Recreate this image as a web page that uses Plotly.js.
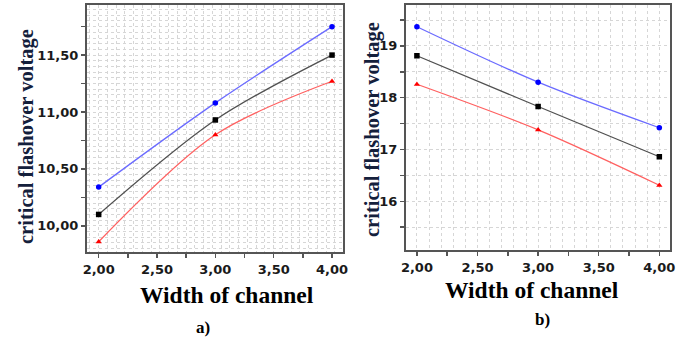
<!DOCTYPE html>
<html><head><meta charset="utf-8">
<script src="https://cdn.plot.ly/plotly-3.0.1.min.js"></script>
<style>html,body{margin:0;padding:0;background:#fff}#c{width:691px;height:340px}</style>
</head><body><div id="c"></div>
<script>
// Data
const widths = [2, 3, 4];
const aBlue  = [10.34, 11.08, 11.75];
const aBlack = [10.10, 10.93, 11.50];
const aRed   = [9.86, 10.80, 11.27];
const bBlue  = [19.37, 18.30, 17.42];
const bBlack = [18.81, 17.83, 16.86];
const bRed   = [18.26, 17.38, 16.31];
const xTickVals = [2, 2.25, 2.5, 2.75, 3, 3.25, 3.5, 3.75, 4];
const xTickText = ['2,00', '', '2,50', '', '3,00', '', '3,50', '', '4,00'];
const aYTickVals = [9.75, 10, 10.25, 10.5, 10.75, 11, 11.25, 11.5, 11.75];
const aYTickText = ['', '10,00', '', '10,50', '', '11,00', '', '11,50', ''];
const bYTickVals = [15.5, 16, 16.5, 17, 17.5, 18, 18.5, 19, 19.5];
const bYTickText = ['', '16', '', '17', '', '18', '', '19', ''];
const yTitle = 'critical flashover voltage';
const xTitle = 'Width of channel';

const tickFont = {family: 'DejaVu Sans', size: 13, color: '#1a1a1a', weight: 'bold'};
function mk(x, y, col, lineCol, sym, xa, ya) {
  return {x: x, y: y, xaxis: xa, yaxis: ya, type: 'scatter', mode: 'lines+markers',
    line: {color: lineCol, width: 1.3, shape: 'spline', smoothing: 0.9},
    marker: {color: col, symbol: sym, size: 5.5}, showlegend: false, hoverinfo: 'skip'};
}
const traces = [
  mk(widths, aBlue, '#0000ff', '#6b6bff', 'circle', 'x', 'y'),
  mk(widths, aBlack, '#000000', '#505050', 'square', 'x', 'y'),
  mk(widths, aRed, '#ff0000', '#ff6060', 'triangle-up', 'x', 'y'),
  mk(widths, bBlue, '#0000ff', '#6b6bff', 'circle', 'x2', 'y2'),
  mk(widths, bBlack, '#000000', '#505050', 'square', 'x2', 'y2'),
  mk(widths, bRed, '#ff0000', '#ff6060', 'triangle-up', 'x2', 'y2'),
];
function ax(extra) {
  return Object.assign({
    showline: true, linecolor: '#555', linewidth: 2, mirror: true,
    ticks: 'outside', ticklen: 4, tickcolor: '#555', tickwidth: 1.5,
    tickmode: 'array', showgrid: false, zeroline: false,
    tickfont: tickFont, fixedrange: true
  }, extra);
}
const gridStyle = {showgrid: true, gridcolor: '#d6d6d6', griddash: 'dot', gridwidth: 1, ticks: ''};
function ann(text, x, y, size, color, angle) {
  return {text: text, xref: 'paper', yref: 'paper', x: x / 691, y: 1 - y / 340,
    xanchor: 'center', yanchor: 'middle', textangle: angle || 0, showarrow: false,
    font: {family: 'Liberation Serif', size: size, color: color, weight: 'bold'}};
}
const layout = {
  width: 691, height: 340,
  margin: {l: 0, r: 0, t: 0, b: 0},
  paper_bgcolor: '#fff', plot_bgcolor: '#fff',
  xaxis: ax({domain: [87/691, 343/691], range: [1.9, 4.094], anchor: 'y',
    tickvals: xTickVals, ticktext: xTickText,
    minor: Object.assign({dtick: 0.075, tick0: 2}, gridStyle)}),
  yaxis: ax({domain: [88/340, 335/340], range: [9.77, 11.94], anchor: 'x',
    tickvals: aYTickVals, ticktext: aYTickText,
    minor: Object.assign({dtick: 0.05, tick0: 10}, gridStyle)}),
  xaxis2: ax({domain: [406/691, 670/691], range: [1.91, 4.088], anchor: 'y2',
    tickvals: xTickVals, ticktext: xTickText,
    minor: Object.assign({dtick: 0.1, tick0: 2}, gridStyle)}),
  yaxis2: ax({domain: [90/340, 335/340], range: [15.06, 19.79], anchor: 'x2',
    tickvals: bYTickVals, ticktext: bYTickText,
    minor: Object.assign({dtick: 0.5, tick0: 16}, gridStyle)}),
  annotations: [
    ann(yTitle, 26, 137, 20.5, '#14203c', -90),
    ann(yTitle, 372, 129, 20.5, '#14203c', -90),
    ann(xTitle, 227, 295, 23.5, '#000'),
    ann(xTitle, 532, 290, 23.5, '#000'),
    ann('a)', 203, 327, 17, '#000'),
    ann('b)', 542, 319, 17, '#000')
  ]
};
Plotly.newPlot('c', traces, layout, {displayModeBar: false, staticPlot: true});
</script></body></html>
